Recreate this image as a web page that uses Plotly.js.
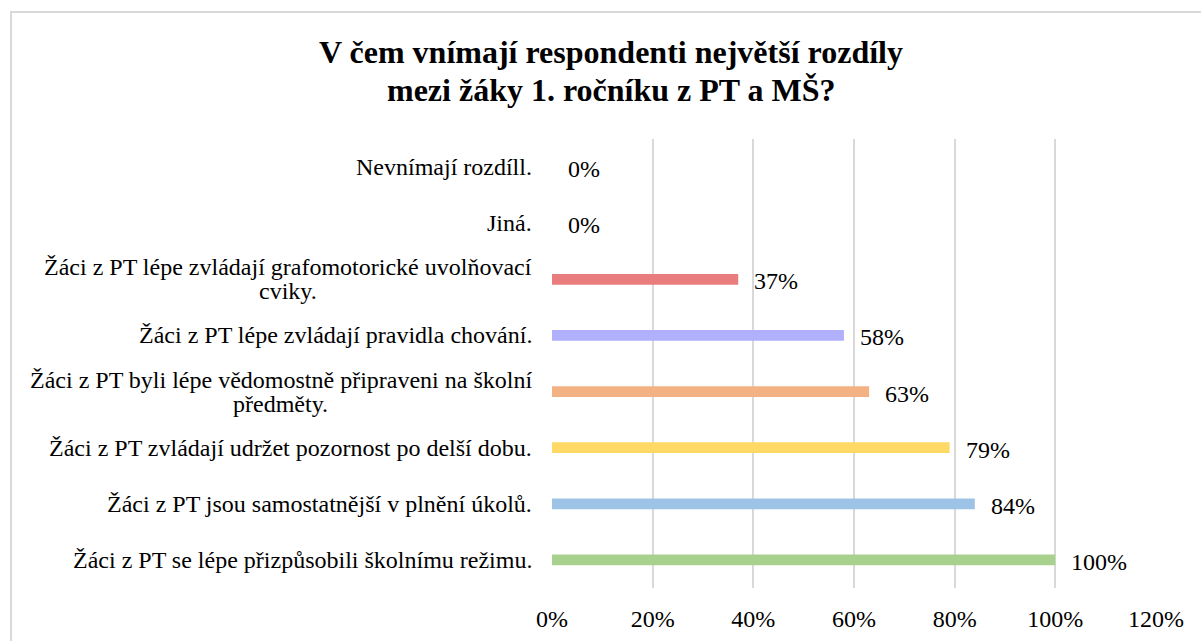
<!DOCTYPE html>
<html>
<head>
<meta charset="utf-8">
<script src="https://cdn.plot.ly/plotly-3.0.1.min.js"></script>
<style>
html,body{margin:0;padding:0;background:#fff;}
#chart{width:1201px;height:641px;}
</style>
</head>
<body>
<div id="chart"></div>
<script>
// Data (bottom to top)
const categories = [
  "Žáci z PT se lépe přizpůsobili školnímu režimu.",
  "Žáci z PT jsou samostatnější v plnění úkolů.",
  "Žáci z PT zvládají udržet pozornost po delší dobu.",
  "Žáci z PT byli lépe vědomostně připraveni na školní<br>předměty.",
  "Žáci z PT lépe zvládají pravidla chování.",
  "Žáci z PT lépe zvládají grafomotorické uvolňovací<br>cviky.",
  "Jiná.",
  "Nevnímají rozdíll."
];
const values = [1.00, 0.84, 0.79, 0.63, 0.58, 0.37, 0, 0];
const valueLabels = ["100%", "84%", "79%", "63%", "58%", "37%", "0%", "0%"];
const barColors = ["#a9d18e", "#9dc3e6", "#ffd966", "#f4b183", "#b0b0fc", "#e97c7c", "#cccccc", "#cccccc"];
const xTickValues = [0, 0.2, 0.4, 0.6, 0.8, 1.0, 1.2];
const xTickLabels = ["0%", "20%", "40%", "60%", "80%", "100%", "120%"];
const titleLines = ["V čem vnímají respondenti největší rozdíly", "mezi žáky 1. ročníku z PT a MŠ?"];

const FONT = "Liberation Serif";
const LABEL_SIZE = 24;
const LINE_H = 24;

// measure text for centering wrapped category labels
const cv = document.createElement("canvas").getContext("2d");
cv.font = LABEL_SIZE + "px 'Liberation Serif'";

const trace = {
  type: "bar",
  orientation: "h",
  x: values,
  y: categories,
  width: 0.19,
  marker: {color: barColors},
  hoverinfo: "none"
};

const annotations = [];
categories.forEach((c, i) => {
  const lines = c.split("<br>");
  const maxW = Math.max(...lines.map(l => cv.measureText(l).width));
  const n = lines.length;
  lines.forEach((l, j) => {
    annotations.push({
      xref: "paper", yref: "y", x: 0, y: c,
      text: l, showarrow: false, xanchor: "center", yanchor: "middle",
      xshift: -20 - maxW / 2,
      yshift: ((n - 1) / 2 - j) * LINE_H,
      font: {family: FONT, size: LABEL_SIZE, color: "#000"}
    });
  });
  annotations.push({
    xref: "x", yref: "y", x: values[i], y: c,
    text: valueLabels[i], showarrow: false, xanchor: "left", yanchor: "middle",
    xshift: 14, yshift: -2,
    font: {family: FONT, size: LABEL_SIZE, color: "#000"}
  });
});

titleLines.forEach((t, j) => {
  annotations.push({
    xref: "paper", yref: "paper", x: (611 - 552) / 604, y: (588 - 52 - j * 38) / 449,
    text: "<b>" + t + "</b>", showarrow: false, xanchor: "center", yanchor: "middle",
    font: {family: FONT, size: 32, color: "#000"}
  });
});

const layout = {
  width: 1201, height: 641,
  margin: {l: 552, r: 45, t: 139, b: 53, pad: 0},
  paper_bgcolor: "#fff", plot_bgcolor: "#fff",
  showlegend: false,
  font: {family: FONT},
  xaxis: {
    range: [0, 1.2],
    tickvals: xTickValues, ticktext: xTickLabels,
    showgrid: true, gridcolor: "#d9d9d9", gridwidth: 2,
    zeroline: false, showline: false, ticks: "",
    tickfont: {family: FONT, size: LABEL_SIZE, color: "#000"},
    ticklabelstandoff: 14,
    fixedrange: true
  },
  yaxis: {
    type: "category",
    showticklabels: false, showgrid: false, zeroline: false, showline: false, ticks: "",
    fixedrange: true
  },
  annotations: annotations,
  shapes: [{
    type: "rect", xref: "paper", yref: "paper",
    x0: (11 - 552) / 604, x1: (1210 - 552) / 604,
    y0: (588 - 650) / 449, y1: (588 - 12) / 449,
    line: {color: "#d9d9d9", width: 2}, fillcolor: "rgba(0,0,0,0)", layer: "below"
  }]
};

Plotly.newPlot("chart", [trace], layout, {staticPlot: true, displayModeBar: false});
</script>
</body>
</html>
